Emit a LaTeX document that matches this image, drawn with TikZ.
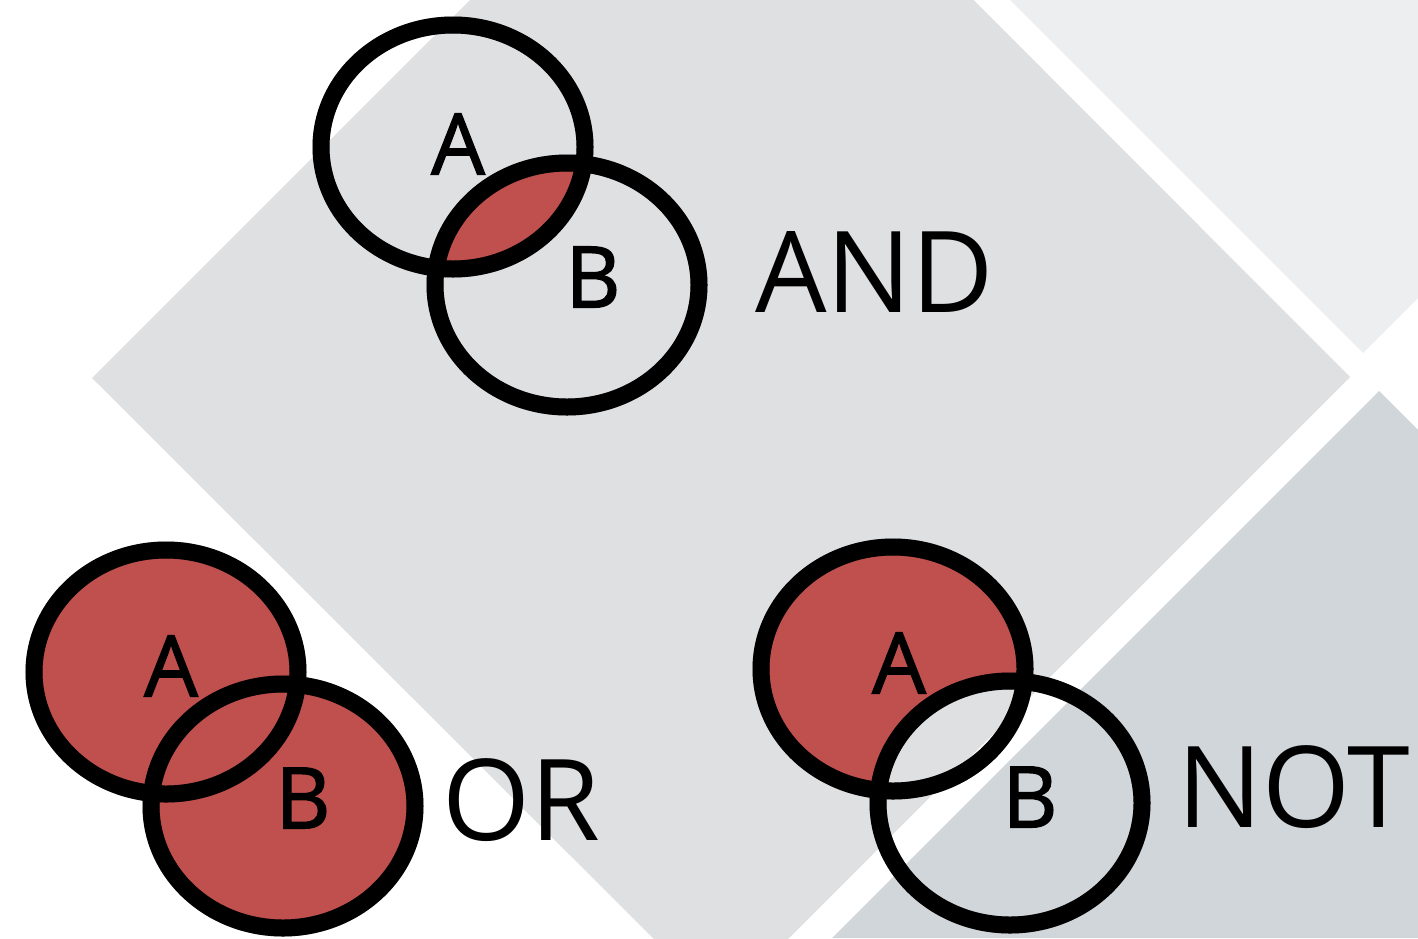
\documentclass[tikz,border=0pt]{standalone}
\usepackage{fontspec}
\setmainfont{Open Sans}
\newfontfamily\letterfont{Open Sans}[FakeBold=1.6]
\definecolor{diamgray}{HTML}{DFE0E2}
\definecolor{litegray}{HTML}{EDEEF0}
\definecolor{darkgray}{HTML}{D1D6DA}
\definecolor{setred}{HTML}{C0504D}
\tikzset{
  ring/.style={line width=17pt, draw=black},
  ringshadow/.style={line width=17pt, draw=black, opacity=0.3, shift={(1.5,3.5)}},
  letter/.style={font=\letterfont\fontsize{85}{85}\selectfont, inner sep=0pt},
  gate/.style={font=\fontsize{113}{113}\selectfont, inner sep=0pt, anchor=west},
  oval/.style={x radius=132pt, y radius=122pt},
}
\begin{document}
\begin{tikzpicture}[x=1pt, y=-1pt]
    \clip (0,0) rectangle (1418,938);
    \fill[white] (0,0) rectangle (1418,938);
    \fill[diamgray] (92,378) -- (722,-252) -- (1350,377) -- (721,1006) -- cycle;
    \fill[litegray] (1010,0) -- (1363,353) -- (1418,298) -- (1418,0) -- cycle;
    \fill[darkgray] (1379,391) -- (1418,430) -- (1418,938) -- (832,938) -- cycle;

    \coordinate (andA) at (453,147);
    \coordinate (andB) at (567,285);
    \coordinate (orA) at (166,672);
    \coordinate (orB) at (283,806);
    \coordinate (notA) at (893,669);
    \coordinate (notB) at (1010,803);

    \begin{scope}
        \clip (andA) ellipse [oval];
        \fill[setred] (andB) ellipse [oval];
    \end{scope}
    \fill[setred] (orA) ellipse [oval] (orB) ellipse [oval];
    \begin{scope}
        \clip (notA) ellipse [oval];
        \fill[setred, even odd rule] (notA) ellipse [oval] (notB) ellipse [oval];
    \end{scope}

    \foreach \c in {andA,andB,orA,orB,notA,notB}
        \draw[ringshadow] (\c) ellipse [oval];
    \foreach \c in {andA,andB,orA,orB,notA,notB}
        \draw[ring] (\c) ellipse [oval];

    \node[letter] (andAl) at (458,144) {A};
    \node[letter] (andBl) at (593,277) {B};
    \node[letter] (orAl) at (171,666) {A};
    \node[letter] (orBl) at (303,798) {B};
    \node[letter] (notAl) at (899,663) {A};
    \node[letter] (notBl) at (1030,797) {B};

    \node[gate] (and) at (755,272) {AND};
    \node[gate] (or) at (442,800) {OR};
    \node[gate] (not) at (1177,787) {NOT};
\end{tikzpicture}
\end{document}
